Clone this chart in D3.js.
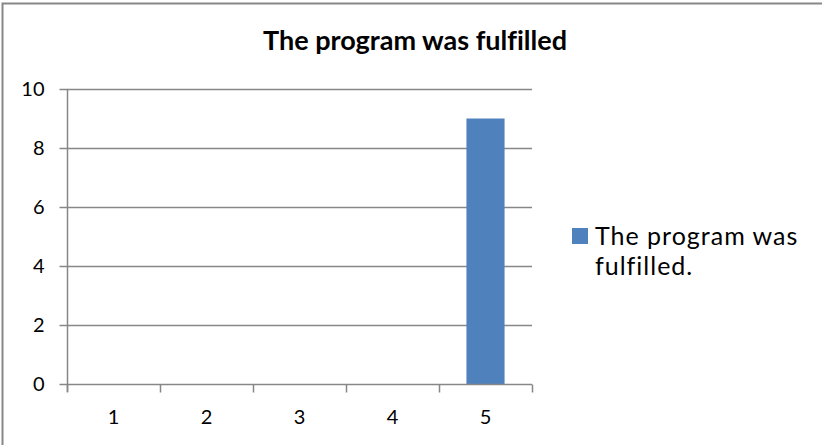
<!DOCTYPE html>
<html>
<head>
<meta charset="utf-8">
<script src="https://cdn.jsdelivr.net/npm/d3@7"></script>
<style>
  html, body { margin: 0; padding: 0; background: #fff; }
  svg { display: block; }
  text { font-family: Lato, "Open Sans", sans-serif; fill: #000; font-variant-ligatures: none; }
</style>
</head>
<body>
<svg id="chart" width="822" height="445"></svg>
<script>
const title = "The program was fulfilled";
const categories = ["1", "2", "3", "4", "5"];
const values = [0, 0, 0, 0, 9];
const seriesName = ["The program was", "fulfilled."];
const yTicks = [0, 2, 4, 6, 8, 10];

(function () {
const svg = d3.select("#chart");
const gray = "#878787";

// outer frame (extends past the right and bottom edges)
svg.append("rect")
  .attr("x", 2.5).attr("y", 3.5)
  .attr("width", 840).attr("height", 460)
  .attr("fill", "#fff").attr("stroke", gray).attr("stroke-width", 2);

const pLeft = 67, pRight = 532, pTop = 89, pBottom = 384;

const x = d3.scaleBand().domain(categories).range([pLeft, pRight])
  .paddingInner(0.59).paddingOuter(0.295);
const xb = d3.scaleBand().domain(categories).range([pLeft, pRight]);
const y = d3.scaleLinear().domain([0, 10]).range([pBottom, pTop]);

// gridlines
svg.append("g").selectAll("line").data(yTicks.filter(d => d > 0)).join("line")
  .attr("x1", pLeft).attr("x2", pRight)
  .attr("y1", d => Math.round(y(d)) + 0.5).attr("y2", d => Math.round(y(d)) + 0.5)
  .attr("stroke", gray).attr("stroke-width", 1.5);

// y axis
const yAxis = svg.append("g")
  .attr("transform", `translate(${pLeft + 0.5},0)`)
  .call(d3.axisLeft(y).tickValues(yTicks).tickSize(8).tickPadding(15));
yAxis.select(".domain").attr("stroke", gray).attr("stroke-width", 1.5)
  .attr("d", `M0,${pTop}V${pBottom + 8}`);
yAxis.selectAll(".tick line").attr("stroke", gray).attr("stroke-width", 1.5);
yAxis.selectAll(".tick text").style("font-family", "Lato, sans-serif")
  .style("font-size", "20px").attr("fill", "#000");

// bars
svg.append("g").selectAll("rect").data(values).join("rect")
  .attr("x", (d, i) => x(categories[i]))
  .attr("width", x.bandwidth())
  .attr("y", d => y(d))
  .attr("height", d => y(0) - y(d))
  .attr("fill", "#4F81BD");

// x axis
const xAxisG = svg.append("g").attr("transform", `translate(0,${pBottom + 0.5})`);
xAxisG.append("line").attr("x1", pLeft).attr("x2", pRight)
  .attr("stroke", gray).attr("stroke-width", 1.5);
const bounds = categories.map(c => xb(c)).concat([pRight]);
xAxisG.selectAll("line.tk").data(bounds).join("line").attr("class", "tk")
  .attr("x1", d => d + 0.5).attr("x2", d => d + 0.5)
  .attr("y1", 0).attr("y2", 8)
  .attr("stroke", gray).attr("stroke-width", 1.5);
xAxisG.selectAll("text").data(categories).join("text")
  .attr("x", d => xb(d) + xb.bandwidth() / 2)
  .attr("y", 39)
  .attr("text-anchor", "middle")
  .style("font-size", "20px")
  .text(d => d);

// title
svg.append("text")
  .attr("x", 415).attr("y", 50)
  .attr("text-anchor", "middle")
  .style("font-size", "27px").style("font-weight", "bold")
  .text(title);

// legend
svg.append("rect").attr("x", 572).attr("y", 228).attr("width", 16).attr("height", 16)
  .attr("fill", "#4F81BD");
const lg = svg.append("g");
lg.selectAll("text").data(seriesName).join("text")
  .attr("x", 595).attr("y", (d, i) => 245 + i * 30)
  .style("font-size", "25px").style("letter-spacing", "1px")
  .text(d => d);
})();
</script>
</body>
</html>
